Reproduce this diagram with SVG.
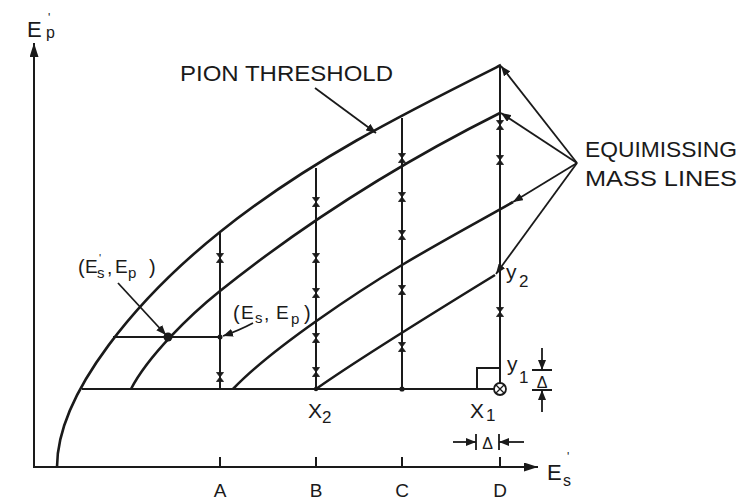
<svg xmlns="http://www.w3.org/2000/svg" width="744" height="501" viewBox="0 0 744 501">
<style>
text{font-family:"Liberation Sans",Arial,sans-serif;fill:#1a1a1a}
.ax{stroke:#1a1a1a;stroke-width:2;fill:none}
.cv{stroke:#1a1a1a;stroke-width:2.6;fill:none}
.ln{stroke:#1a1a1a;stroke-width:2;fill:none}
.ar{stroke:#1a1a1a;stroke-width:1.8;fill:none}
.big{font-size:22px}
.lab{font-size:19px}
.sub{font-size:15px}
</style>
<defs>
<marker id="ah" viewBox="0 0 10 8" refX="10" refY="4" markerWidth="10" markerHeight="8" markerUnits="userSpaceOnUse" orient="auto"><path d="M0,0L10,4L0,8Z" fill="#1a1a1a"/></marker>
<marker id="axh" viewBox="0 0 14 9" refX="14" refY="4.5" markerWidth="14" markerHeight="9" markerUnits="userSpaceOnUse" orient="auto"><path d="M0,0L14,4.5L0,9Z" fill="#1a1a1a"/></marker>
<path id="hm" d="M-3.5,-4.5H3.5L-3.5,4.5H3.5Z" fill="#1a1a1a" stroke="#1a1a1a" stroke-width="0.8"/>
</defs>

<g id="axes">
<line class="ax" x1="34" y1="467" x2="34" y2="43" marker-end="url(#axh)"/>
<line class="ax" x1="33" y1="467" x2="538" y2="467" marker-end="url(#axh)"/>
<path class="ax" d="M220,457V467M316,457V467M402,457V467M500,457V467"/>
<text x="27" y="37" class="big">E<tspan x="48" y="22" font-size="12px">'</tspan><tspan x="46" y="38" font-size="16px">p</tspan></text>
<text x="547" y="480" class="big">E<tspan x="567" y="461" font-size="12px">'</tspan><tspan x="563" y="486" font-size="16px">s</tspan></text>
<text x="220" y="497" class="lab" text-anchor="middle">A</text>
<text x="316" y="497" class="lab" text-anchor="middle">B</text>
<text x="402" y="497" class="lab" text-anchor="middle">C</text>
<text x="500" y="497" class="lab" text-anchor="middle">D</text>
</g>

<g id="pion-threshold">
<path class="cv" d="M57,467C57,392 140,296 220,232C310,160 406,112.5 501,65"/>
<text x="180" y="81" class="big" textLength="213" lengthAdjust="spacingAndGlyphs">PION THRESHOLD</text>
</g>

<g id="equimissing-lines">
<path class="cv" d="M131,389C148,356 190,315 220,291C310,219 405,160.5 500,113"/>
<path class="cv" d="M233,389C273,347 362,289 402,265C442,241 476,223 513,202"/>
<path class="cv" d="M316,389C350,365 420,321 495,275"/>
<text x="585" y="157" class="big" textLength="152" lengthAdjust="spacingAndGlyphs">EQUIMISSING</text>
<text x="585" y="186" class="big" textLength="152" lengthAdjust="spacingAndGlyphs">MASS LINES</text>
</g>

<g id="grid">
<line class="ln" x1="220" y1="232" x2="220" y2="389"/>
<line class="ln" x1="316" y1="168" x2="316" y2="389"/>
<line class="ln" x1="402" y1="118" x2="402" y2="389"/>
<line class="ln" x1="500" y1="65" x2="500" y2="383"/>
<line class="ln" x1="82" y1="389" x2="494" y2="389"/>
<line class="ln" x1="113" y1="337" x2="220" y2="337"/>
<rect class="ln" x="477" y="368" width="23" height="21"/>
</g>

<g id="marks">
<use href="#hm" x="220" y="258"/><use href="#hm" x="220" y="377"/>
<use href="#hm" x="316" y="202"/><use href="#hm" x="316" y="258"/><use href="#hm" x="316" y="293"/><use href="#hm" x="316" y="338"/><use href="#hm" x="316" y="372"/>
<use href="#hm" x="402" y="158"/><use href="#hm" x="402" y="197"/><use href="#hm" x="402" y="235"/><use href="#hm" x="402" y="290"/><use href="#hm" x="402" y="347"/>
<use href="#hm" x="500" y="125"/><use href="#hm" x="500" y="160"/><use href="#hm" x="500" y="312"/>
<circle cx="168" cy="337" r="4.5" fill="#1a1a1a"/>
<circle cx="220" cy="337" r="2.5" fill="#1a1a1a"/>
<circle cx="316" cy="389" r="2.2" fill="#1a1a1a"/>
<circle cx="402" cy="389" r="2.6" fill="#1a1a1a"/>
<circle cx="500" cy="389" r="6" fill="#fff" stroke="#1a1a1a" stroke-width="1.8"/>
<path d="M496,385L504,393M504,385L496,393" stroke="#1a1a1a" stroke-width="1.3"/>
</g>

<g id="point-labels">
<text class="lab"><tspan x="78" y="274" font-size="20px">(</tspan><tspan x="85" y="273">E</tspan><tspan x="99" y="262" font-size="11px">'</tspan><tspan x="97" y="278" class="sub">s</tspan><tspan x="107" y="274">,</tspan><tspan x="115" y="273">E</tspan><tspan x="128" y="278" class="sub">p</tspan><tspan x="149" y="274" font-size="20px">)</tspan></text>
<text class="lab"><tspan x="233" y="320" font-size="20px">(</tspan><tspan x="241" y="319">E</tspan><tspan x="255" y="323" class="sub">s</tspan><tspan x="264" y="320">,</tspan><tspan x="276" y="319">E</tspan><tspan x="291" y="324" class="sub">p</tspan><tspan x="304" y="320" font-size="20px">)</tspan></text>
<text x="308" y="418" font-size="21px">X<tspan x="322" y="423" font-size="17px">2</tspan></text>
<text x="470" y="418" font-size="21px">X<tspan x="486" y="421" font-size="17px">1</tspan></text>
<text x="506" y="279" font-size="21px">y<tspan x="519" y="287" font-size="17px">2</tspan></text>
<text x="507" y="371" font-size="21px">y<tspan x="519" y="383" font-size="17px">1</tspan></text>
<text x="487.5" y="449" font-size="16px" text-anchor="middle">Δ</text>
<text x="542" y="388" font-size="16px" text-anchor="middle">Δ</text>
</g>

<g id="connectors">
<line class="ar" x1="315" y1="88" x2="376" y2="133" marker-end="url(#ah)"/>
<line class="ar" x1="577" y1="163" x2="501" y2="66" marker-end="url(#ah)"/>
<line class="ar" x1="577" y1="163" x2="501" y2="113" marker-end="url(#ah)"/>
<line class="ar" x1="577" y1="163" x2="513" y2="202" marker-end="url(#ah)"/>
<line class="ar" x1="577" y1="163" x2="496" y2="274" marker-end="url(#ah)"/>
<line class="ar" x1="118" y1="283" x2="166" y2="335" marker-end="url(#ah)"/>
<path class="ar" d="M253,323Q240,330 223,336" marker-end="url(#ah)"/>
<path class="ar" d="M476,434V450M499,434V450M532,370H552M532,390H552"/>
<line class="ar" x1="453" y1="442" x2="476" y2="442" marker-end="url(#ah)"/>
<line class="ar" x1="524" y1="442" x2="499" y2="442" marker-end="url(#ah)"/>
<line class="ar" x1="542" y1="348" x2="542" y2="370" marker-end="url(#ah)"/>
<line class="ar" x1="542" y1="412" x2="542" y2="390" marker-end="url(#ah)"/>
</g>
</svg>
